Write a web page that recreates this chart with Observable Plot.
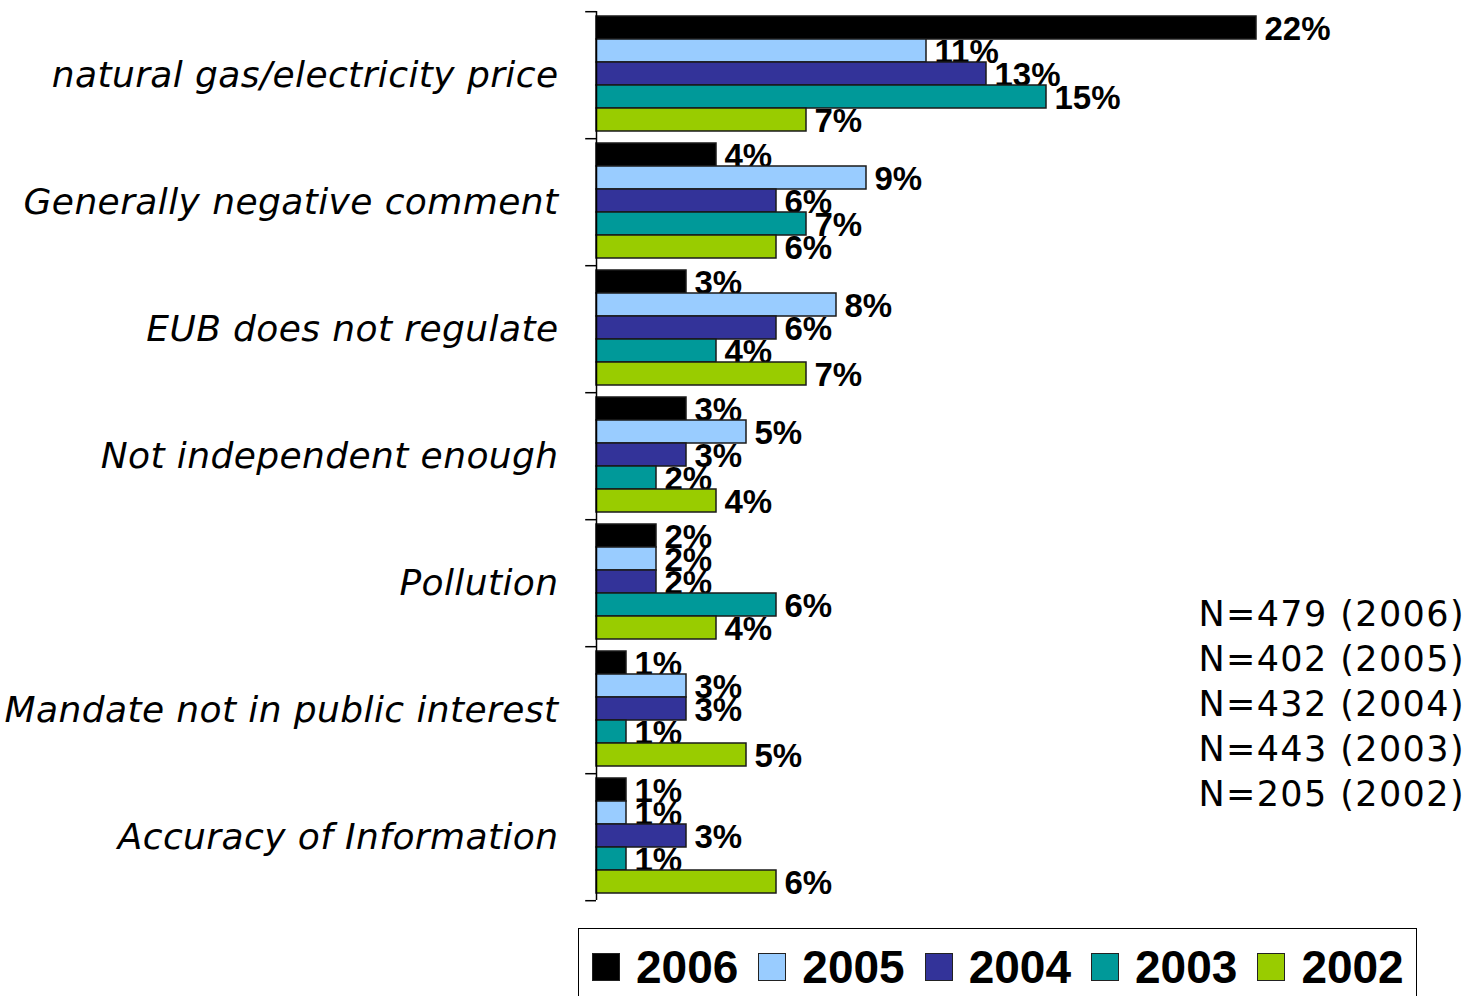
<!DOCTYPE html>
<html><head><meta charset="utf-8">
<script src="https://cdn.jsdelivr.net/npm/d3@7"></script>
<script src="https://cdn.jsdelivr.net/npm/@observablehq/plot@0.6"></script>
<style>
body{margin:0;background:#fff;}
#wrap{position:relative;width:1470px;height:996px;overflow:hidden;background:#fff;}
#nbox{position:absolute;right:5px;top:592px;font-family:"DejaVu Sans";font-size:35px;letter-spacing:1.4px;line-height:45px;text-align:right;color:#000;}
#legend{position:absolute;left:578px;top:928px;width:839px;height:78px;border:1.5px solid #000;box-sizing:border-box;display:flex;align-items:center;padding-left:13px;}
.sw{width:28px;height:28px;box-sizing:border-box;border:1.5px solid #222;margin-right:16px;flex:none;}
.lt{font-family:"Liberation Sans";font-weight:bold;font-size:46px;line-height:1;margin-right:20px;color:#000;}
</style>
</head><body>
<div id="wrap">
  <div id="chart"></div>
  <div id="nbox"></div>
  <div id="legend"></div>
</div>
<script>
const categories = [
  "natural gas/electricity price",
  "Generally negative comment",
  "EUB does not regulate",
  "Not independent enough",
  "Pollution",
  "Mandate not in public interest",
  "Accuracy of Information"
];
const years = ["2006", "2005", "2004", "2003", "2002"];
const colors = ["#000000", "#99CCFF", "#333399", "#009999", "#99CC00"];
const v2006 = [22, 4, 3, 3, 2, 1, 1];
const v2005 = [11, 9, 8, 5, 2, 3, 1];
const v2004 = [13, 6, 6, 3, 2, 3, 3];
const v2003 = [15, 7, 4, 2, 6, 1, 1];
const v2002 = [7, 6, 7, 4, 4, 5, 6];
const sampleNotes = ["N=479 (2006)", "N=402 (2005)", "N=432 (2004)", "N=443 (2003)", "N=205 (2002)"];

const series = {"2006": v2006, "2005": v2005, "2004": v2004, "2003": v2003, "2002": v2002};
const data = years.flatMap(yr => categories.map((c, i) => ({
  category: c, year: yr, value: series[yr][i], label: series[yr][i] + "%"
})));

const H = 910, mT = 10, mB = 10;
const padOuter = 0.26, align = 0.4;
const facetH = (H - mT - mB) / categories.length;
const step = facetH / (years.length + 2 * padOuter);
const topOff = (facetH - years.length * step) * align;
const dyTop = -(topOff + step / 2);
const dyBottom = facetH - (topOff + (years.length - 0.5) * step);

const marks = [];
for (const yr of years) {
  const d = data.filter(r => r.year === yr);
  marks.push(Plot.barX(d, {x: "value", y: "year", fy: "category", fill: "year", stroke: "#1a1a1a", strokeWidth: 1.5}));
  marks.push(Plot.text(d, {x: "value", y: "year", fy: "category", text: "label", dx: 8, dy: 1, textAnchor: "start",
    fontFamily: "Liberation Sans", fontWeight: "bold", fontSize: 33, fontStyle: "normal", fill: "#000"}));
}
marks.push(Plot.ruleX([0], {stroke: "#000", strokeWidth: 1.5}));
marks.push(Plot.ruleY(categories, {fy: d => d, y: () => years[0], x1: -0.36, x2: 0, dy: dyTop, stroke: "#000", strokeWidth: 1.5}));
marks.push(Plot.ruleY([categories[categories.length - 1]], {fy: d => d, y: () => years[years.length - 1], x1: -0.36, x2: 0, dy: dyBottom, stroke: "#000", strokeWidth: 1.5}));

const chart = Plot.plot({
  width: 1470, height: H, marginLeft: 596, marginRight: 4, marginTop: mT, marginBottom: mB,
  style: {fontFamily: "DejaVu Sans", fontSize: "36px", fontStyle: "italic", letterSpacing: "0.4px", color: "#000", background: "#fff", overflow: "visible"},
  x: {domain: [0, 29], axis: null},
  y: {domain: years, axis: null, paddingInner: 0, paddingOuter: padOuter, align: align},
  fy: {domain: categories, padding: 0, axis: "left", label: null, tickSize: 0, tickPadding: 38},
  color: {domain: years, range: colors},
  marks
});
chart.querySelectorAll("text").forEach(t => { if (t.closest("[aria-label='text']")) t.style.letterSpacing = "0px"; });
document.getElementById("chart").appendChild(chart);

document.getElementById("nbox").innerHTML = sampleNotes.map(s => `<div>${s}</div>`).join("");
document.getElementById("legend").innerHTML = years.map((y, i) =>
  `<span class="sw" style="background:${colors[i]}"></span><span class="lt">${y}</span>`).join("");
</script>
</body></html>
